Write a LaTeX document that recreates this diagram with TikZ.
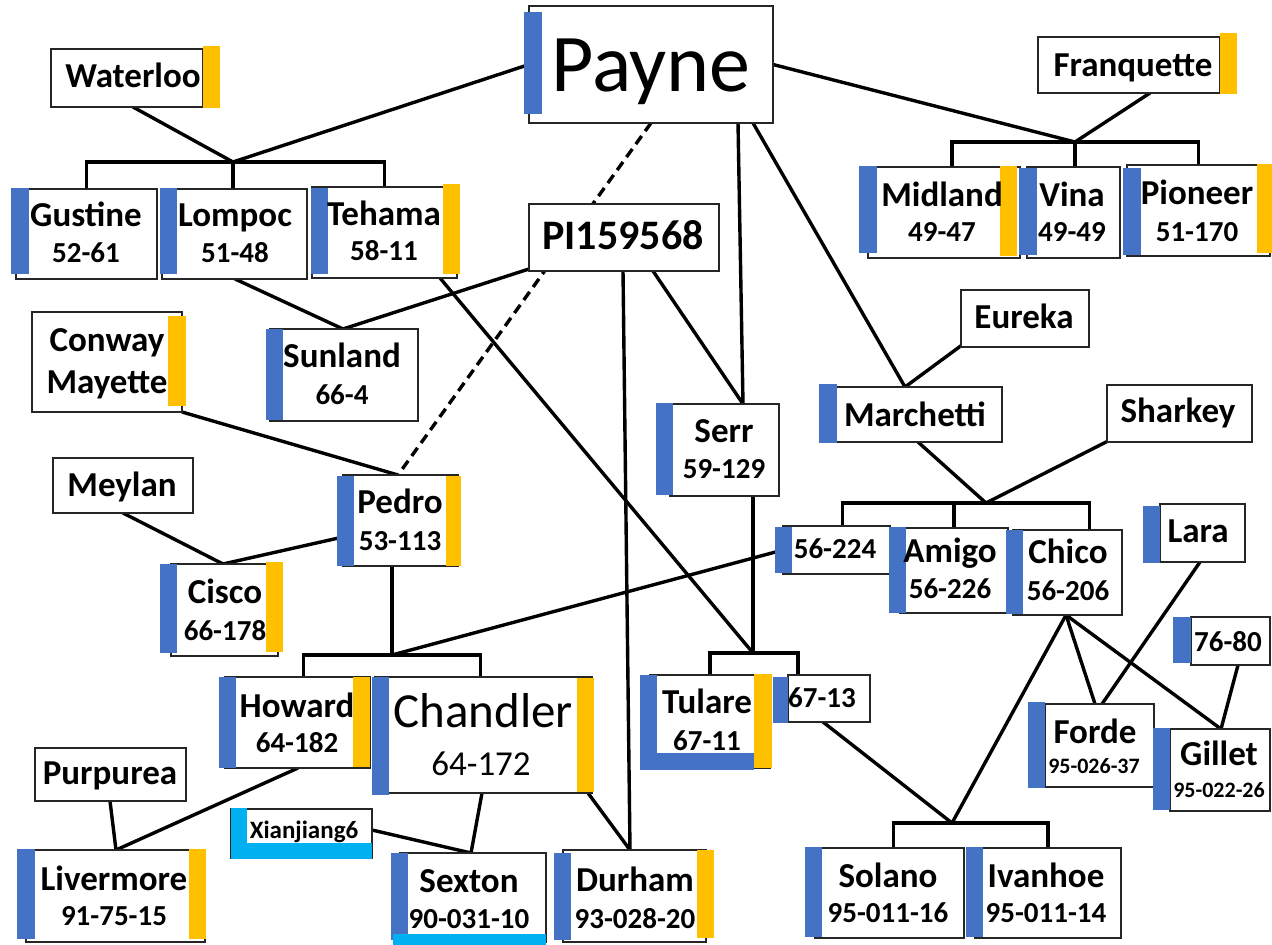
\documentclass[tikz,border=0pt]{standalone}
\usepackage{fontspec}
\setmainfont{Carlito}
\usetikzlibrary{calc}
\pgfdeclarelayer{bg}
\pgfsetlayers{bg,main}
\definecolor{bblue}{HTML}{4472C4}
\definecolor{byel}{HTML}{FFC000}
\definecolor{bcyan}{HTML}{00B0F0}
\tikzset{
 boxst/.style={draw=black!85, line width=0.9pt, fill=white, inner sep=0pt, outer sep=0pt, rectangle},
 nmst/.style={inner sep=0pt, font=\fontsize{17.5}{20}\selectfont\bfseries},
 cdst/.style={inner sep=0pt, font=\fontsize{14.5}{17}\selectfont\bfseries},
 smst/.style={inner sep=0pt, font=\fontsize{11}{13}\selectfont\bfseries},
 xist/.style={inner sep=0pt, font=\fontsize{12.5}{14}\selectfont\bfseries},
 pist/.style={inner sep=0pt, font=\fontsize{21}{24}\selectfont\bfseries},
 bigst/.style={inner sep=0pt, font=\fontsize{41}{45}\selectfont},
 chst/.style={inner sep=0pt, font=\fontsize{24.5}{28}\selectfont},
 chnst/.style={inner sep=0pt, font=\fontsize{17.5}{20}\selectfont},
 conn/.style={line width=1.7pt, black},
 dconn/.style={line width=1.7pt, black, dash pattern=on 5pt off 3pt},
}
\newcommand\bx[5]{\node[boxst, anchor=north west, minimum width={(#4-#2)*0.5pt}, minimum height={(#5-#3)*0.5pt}] (#1) at (#2,#3) {};}
\newcommand\bB[4]{\fill[bblue] (#1,#2) rectangle (#3,#4);}
\newcommand\bY[4]{\fill[byel] (#1,#2) rectangle (#3,#4);}
\newcommand\bC[4]{\fill[bcyan] (#1,#2) rectangle (#3,#4);}
\newcommand\tx[5]{\node[#1,anchor=base] (#2) at (#3,#4) {#5};}
\begin{document}
\begin{tikzpicture}[x=0.5pt,y=-0.5pt]
\useasboundingbox (0,0) rectangle (1272,945);
% boxes
\bx{waterloo}{51}{49}{203}{107}
\bx{payne}{529}{6}{773}{123}
\bx{franq}{1038}{37}{1220}{93}
\bx{midland}{868}{167}{1020}{258}
\bx{vina}{1027}{167}{1120}{258}
\bx{pioneer}{1127}{165}{1270}{256}
\bx{gustine}{16}{189}{157}{279}
\bx{lompoc}{162}{189}{307}{279}
\bx{tehama}{312}{187}{457}{278}
\bx{pi}{529}{204}{719}{271}
\bx{conway}{32}{312}{182}{412}
\bx{sunland}{270}{329}{418}{421}
\bx{meylan}{53}{458}{193}{513}
\bx{pedro}{343}{475}{458}{566}
\bx{cisco}{171}{564}{278}{656}
\bx{serr}{670}{404}{779}{496}
\bx{marchetti}{836}{387}{1002}{442}
\bx{eureka}{961}{290}{1089}{347}
\bx{sharkey}{1107}{385}{1252}{442}
\bx{n56224}{783}{526}{890}{574}
\bx{amigo}{900}{528}{1008}{613}
\bx{chico}{1013}{530}{1122}{615}
\bx{lara}{1160}{504}{1245}{562}
\bx{n7680}{1191}{617}{1270}{665}
\bx{forde}{1045}{704}{1154}{787}
\bx{gillet}{1170}{729}{1270}{811}
\bx{tulare}{650}{675}{770}{768}
\bx{n6713}{788}{675}{870}{722}
\bx{howard}{225}{677}{370}{768}
\bx{chandler}{375}{677}{592}{793}
\bx{purpurea}{35}{748}{186}{801}
\bx{livermore}{26}{850}{205}{942}
\bx{xian}{231}{809}{372}{858}
\bx{sexton}{400}{853}{546}{942}
\bx{durham}{563}{850}{706}{942}
\bx{solano}{815}{848}{964}{938}
\bx{ivanhoe}{975}{848}{1121}{938}
% bars
\bY{203}{46}{220}{108}
\bB{524}{12}{542}{114}
\bY{1220}{33}{1237}{94}
\bB{859}{166}{877}{253}\bY{1000}{166}{1017}{256}
\bB{1019}{168}{1037}{255}
\bB{1123}{168}{1141}{255}\bY{1257}{164}{1272}{253}
\bB{11}{188}{29}{274}
\bB{160}{188}{177}{274}
\bB{311}{188}{328}{274}\bY{443}{184}{460}{274}
\bY{168}{316}{186}{406}
\bB{266}{329}{283}{420}
\bB{337}{476}{354}{566}\bY{446}{476}{461}{566}
\bB{160}{564}{177}{653}\bY{266}{562}{283}{652}
\bB{656}{403}{673}{495}
\bB{819}{384}{837}{443}
\bB{775}{527}{792}{573}
\bB{889}{527}{906}{613}
\bB{1006}{530}{1023}{614}
\bB{1143}{506}{1160}{563}
\bB{1173}{617}{1191}{663}
\bB{1028}{702}{1045}{788}
\bB{1153}{728}{1170}{810}
\bB{640}{675}{657}{770}\bB{640}{753}{754}{770}\bY{754}{674}{772}{768}
\bB{773}{677}{788}{723}
\bB{219}{677}{236}{768}\bY{353}{677}{370}{767}
\bB{372}{677}{389}{795}\bY{577}{678}{594}{792}
\bB{17}{849}{35}{939}\bY{189}{849}{206}{939}
\bC{231}{808}{247}{859}\bC{231}{843}{372}{859}
\bB{391}{853}{408}{940}\bC{393}{934}{546}{945}
\bB{554}{853}{571}{940}\bY{697}{850}{714}{938}
\bB{805}{847}{822}{937}
\bB{966}{847}{983}{937}
% texts
\tx{nmst}{waterloo-t}{133}{88}{Waterloo}
\tx{bigst}{payne-t}{651}{92}{Payne}
\tx{nmst}{franq-t}{1133}{77}{Franquette}
\tx{nmst}{midland-t}{942}{207}{Midland}\tx{cdst}{midland-c}{942}{242}{49-47}
\tx{nmst}{vina-t}{1072}{207}{Vina}\tx{cdst}{vina-c}{1072}{242}{49-49}
\tx{nmst}{pioneer-t}{1197}{205}{Pioneer}\tx{cdst}{pioneer-c}{1197}{242}{51-170}
\tx{nmst}{gustine-t}{86}{227}{Gustine}\tx{cdst}{gustine-c}{86}{263}{52-61}
\tx{nmst}{lompoc-t}{235}{227}{Lompoc}\tx{cdst}{lompoc-c}{235}{263}{51-48}
\tx{nmst}{tehama-t}{384}{226}{Tehama}\tx{cdst}{tehama-c}{384}{261}{58-11}
\tx{pist}{pi-t}{623}{250}{PI159568}
\tx{nmst}{conway-t}{107}{352}{Conway}\tx{nmst}{conway-t2}{107}{394}{Mayette}
\tx{nmst}{sunland-t}{342}{368}{Sunland}\tx{cdst}{sunland-c}{342}{405}{66-4}
\tx{nmst}{meylan-t}{122}{497}{Meylan}
\tx{nmst}{pedro-t}{400}{514}{Pedro}\tx{cdst}{pedro-c}{400}{550}{53-113}
\tx{nmst}{cisco-t}{225}{603}{Cisco}\tx{cdst}{cisco-c}{225}{640}{66-178}
\tx{nmst}{serr-t}{724}{443}{Serr}\tx{cdst}{serr-c}{724}{479}{59-129}
\tx{nmst}{marchetti-t}{915}{427}{Marchetti}
\tx{nmst}{eureka-t}{1024}{329}{Eureka}
\tx{nmst}{sharkey-t}{1178}{423}{Sharkey}
\tx{cdst}{n56224-t}{835}{559}{56-224}
\tx{nmst}{amigo-t}{950}{562}{Amigo}\tx{cdst}{amigo-c}{950}{598}{56-226}
\tx{nmst}{chico-t}{1068}{563}{Chico}\tx{cdst}{chico-c}{1068}{600}{56-206}
\tx{nmst}{lara-t}{1198}{543}{Lara}
\tx{cdst}{n7680-t}{1228}{651}{76-80}
\tx{nmst}{forde-t}{1095}{743}{Forde}\tx{smst}{forde-c}{1094}{773}{95-026-37}
\tx{nmst}{gillet-t}{1219}{765}{Gillet}\tx{smst}{gillet-c}{1219}{797}{95-022-26}
\tx{nmst}{tulare-t}{707}{713}{Tulare}\tx{cdst}{tulare-c}{707}{750}{67-11}
\tx{cdst}{n6713-t}{822}{707}{67-13}
\tx{nmst}{howard-t}{297}{717}{Howard}\tx{cdst}{howard-c}{297}{752}{64-182}
\tx{chst}{chandler-t}{483}{727}{Chandler}\tx{chnst}{chandler-c}{481}{775}{64-172}
\tx{nmst}{purpurea-t}{110}{784}{Purpurea}
\tx{nmst}{livermore-t}{114}{890}{Livermore}\tx{cdst}{livermore-c}{114}{925}{91-75-15}
\tx{xist}{xian-t}{304}{838}{Xianjiang6}
\tx{nmst}{sexton-t}{469}{892}{Sexton}\tx{cdst}{sexton-c}{469}{928}{90-031-10}
\tx{nmst}{durham-t}{635}{891}{Durham}\tx{cdst}{durham-c}{635}{928}{93-028-20}
\tx{nmst}{solano-t}{888}{887}{Solano}\tx{cdst}{solano-c}{888}{922}{95-011-16}
\tx{nmst}{ivanhoe-t}{1046}{887}{Ivanhoe}\tx{cdst}{ivanhoe-c}{1046}{922}{95-011-14}
% junctions
\coordinate (j1) at (233,162);
\coordinate (j2) at (1075,142);
\coordinate (j3) at (986,503);
\coordinate (j4) at (392,655);
\coordinate (j5) at (952,823);
\coordinate (j6) at (753,653);
\coordinate (mt) at ($(midland.north)+(8,0)$);
\coordinate (t13) at ($(n6713.north west)+(10,0)$);
\coordinate (a1) at ($(n56224.north)+(6,0)$);
\coordinate (c1) at ($(chico.north)+(22,0)$);
\coordinate (h1) at ($(howard.north)+(6,0)$);
\coordinate (ch1) at ($(chandler.north)+(-3,0)$);
\coordinate (so1) at ($(solano.north)+(4,0)$);
\begin{pgfonlayer}{bg}
\fill[white] (0,0) rectangle (1272,945);
\draw[conn] ($(waterloo.south west)+(82,0)$) -- (j1);
\draw[conn] (payne.west) -- (j1);
\draw[conn] (gustine.north) |- (j1) -| (tehama.north);
\draw[conn] (j1) -- (j1 |- lompoc.north);
\draw[conn] (payne.east) -- (j2);
\draw[conn] ($(franq.south west)+(112,0)$) -- (j2);
\draw[conn] (mt) |- (j2) -| (pioneer.north);
\draw[conn] (j2) -- (j2 |- vina.north);
\draw[dconn] ($(payne.south west)+(122,0)$) -- ($(pedro.north west)+(55,0)$);
\draw[conn] ($(payne.south west)+(209,0)$) -- ($(serr.north west)+(73,0)$);
\draw[conn] ($(payne.south west)+(224,0)$) -- ($(marchetti.north west)+(69,0)$);
\draw[conn] ($(pi.south west)+(0,-2)$) -- ($(sunland.north west)+(73,0)$);
\draw[conn] ($(lompoc.south west)+(73,0)$) -- ($(sunland.north west)+(73,0)$);
\draw[conn] ($(pi.south west)+(94,0)$) -- ($(durham.north west)+(67,0)$);
\draw[conn] ($(pi.south west)+(124,0)$) -- ($(serr.north west)+(73,0)$);
\draw[conn] ($(tehama.south west)+(128,0)$) -- (j6);
\draw[conn] ($(serr.south west)+(83,0)$) -- (j6);
\draw[conn] (tulare.north) |- (j6) -| (t13);
\draw[conn] ($(eureka.south west)+(1,-2)$) -- ($(marchetti.north west)+(69,0)$);
\draw[conn] ($(marchetti.south west)+(82,0)$) -- (j3);
\draw[conn] ($(sharkey.south west)+(3,-2)$) -- (j3);
\draw[conn] (a1) |- (j3) -| (c1);
\draw[conn] (amigo.north) -- (amigo.north |- j3);
\draw[conn] (conway.south east) -- ($(pedro.north west)+(55,0)$);
\draw[conn] ($(meylan.south west)+(70,0)$) -- ($(cisco.north west)+(52,0)$);
\draw[conn] ($(pedro.north west)+(0,62)$) -- ($(cisco.north west)+(52,0)$);
\draw[conn] ($(pedro.south west)+(49,0)$) -- (j4);
\draw[conn] (h1) |- (j4) -| (ch1);
\draw[conn] (j4) -- (n56224.west);
\draw[conn] ($(howard.south west)+(73,0)$) -- ($(livermore.north west)+(90,0)$);
\draw[conn] ($(purpurea.south west)+(75,0)$) -- ($(livermore.north west)+(90,0)$);
\draw[conn] ($(chandler.south west)+(107,0)$) -- ($(sexton.north west)+(71,0)$);
\draw[conn] ($(xian.north east)+(0,21)$) -- ($(sexton.north west)+(71,0)$);
\draw[conn] ($(chandler.south west)+(213,0)$) -- ($(durham.north west)+(67,0)$);
\draw[conn] ($(n6713.south west)+(35,0)$) -- (j5);
\draw[conn] ($(chico.south west)+(53,0)$) -- (j5);
\draw[conn] (so1) |- (j5) -| (ivanhoe.north);
\draw[conn] ($(chico.south west)+(53,0)$) -- ($(forde.north west)+(50,0)$);
\draw[conn] ($(chico.south west)+(53,0)$) -- ($(gillet.north west)+(51,0)$);
\draw[conn] ($(lara.south west)+(40,0)$) -- ($(forde.north west)+(57,0)$);
\draw[conn] ($(n7680.south west)+(47,0)$) -- ($(gillet.north west)+(51,0)$);
\end{pgfonlayer}
\end{tikzpicture}
\end{document}
